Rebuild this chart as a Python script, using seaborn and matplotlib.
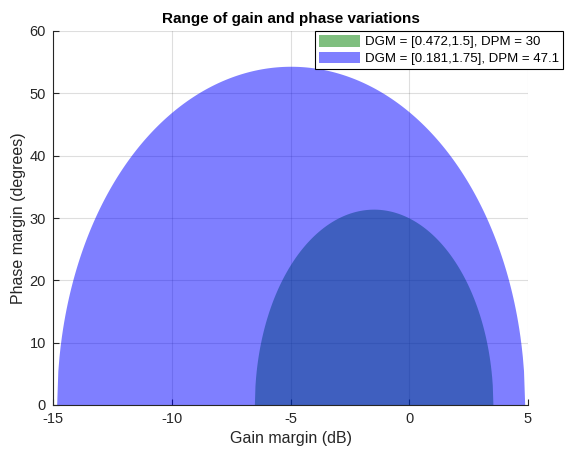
import numpy as np
import pandas as pd
import matplotlib
matplotlib.use("Agg")
import matplotlib.pyplot as plt
import seaborn as sns

# Disk-margin results: gain bounds (absolute) and phase margin at unit gain
gain_lower = [0.472, 0.181]
gain_upper = [1.5, 1.75]
phase_margin = [30, 47.1]
face_colors = ["#008000", "#0000ff"]
series_labels = [f"DGM = [{lo},{hi}], DPM = {pm}"
                 for lo, hi, pm in zip(gain_lower, gain_upper, phase_margin)]

x_ticks = [-15, -10, -5, 0, 5]
y_ticks = [0, 10, 20, 30, 40, 50, 60]


def disk_boundary(gmin, gmax, n=400):
    """Upper boundary of the gain/phase region covered by the disk through gmin and gmax."""
    g = np.geomspace(gmin, gmax, n)
    cos_phi = (g ** 2 + gmin * gmax) / (g * (gmin + gmax))
    phi = np.degrees(np.arccos(np.clip(cos_phi, -1, 1)))
    return pd.DataFrame({"gain_db": 20 * np.log10(g), "phase": phi})


sns.set_theme(style="white")
plt.rcParams["font.family"] = ["Liberation Sans", "DejaVu Sans"]
plt.rcParams["axes.unicode_minus"] = False
text_color = (0.15, 0.15, 0.15)

fig = plt.figure(figsize=(5.65, 4.5), dpi=100)
ax = fig.add_axes([53 / 565, 45 / 450, 475 / 565, 374 / 450])

handles = []
for lo, hi, col, lab in zip(gain_lower, gain_upper, face_colors, series_labels):
    df = disk_boundary(lo, hi)
    h = ax.fill_between(df["gain_db"], 0, df["phase"], color=col, alpha=0.5,
                        linewidth=0, label=lab)
    handles.append(h)

ax.set_xlim(-15, 5)
ax.set_ylim(0, 60)
ax.set_xticks(x_ticks)
ax.set_yticks(y_ticks)
ax.grid(True, color=(0.15, 0.15, 0.15), alpha=0.15, linewidth=0.8)
ax.set_axisbelow(True)
for side in ["top", "right"]:
    ax.spines[side].set_visible(False)
for side in ["left", "bottom"]:
    ax.spines[side].set_color(text_color)
    ax.spines[side].set_linewidth(0.8)
ax.tick_params(direction="in", length=4, width=0.8, colors=text_color,
               labelsize=10.5, left=True, bottom=True)
ax.tick_params(axis="x", pad=5)
ax.tick_params(axis="y", pad=5)

ax.set_title("Range of gain and phase variations", fontsize=11,
             fontweight="bold", color="black", pad=6)
ax.set_xlabel("Gain margin (dB)", fontsize=11.5, color=text_color, labelpad=4)
ax.set_ylabel("Phase margin (degrees)", fontsize=11.5, color=text_color, labelpad=3)

leg = fig.legend(handles=handles, loc="upper right",
                 bbox_to_anchor=(563 / 565, 1 - 31 / 450),
                 bbox_transform=fig.transFigure, borderaxespad=0,
                 fontsize=9.5, frameon=True, fancybox=False,
                 handlelength=3.1, handleheight=1.0, handletextpad=0.35,
                 borderpad=0.3, labelspacing=0.25)
leg.get_frame().set_edgecolor("black")
leg.get_frame().set_linewidth(0.8)
leg.get_frame().set_alpha(1)
for t in leg.get_texts():
    t.set_color("black")

fig.savefig("out.png", dpi=100)
